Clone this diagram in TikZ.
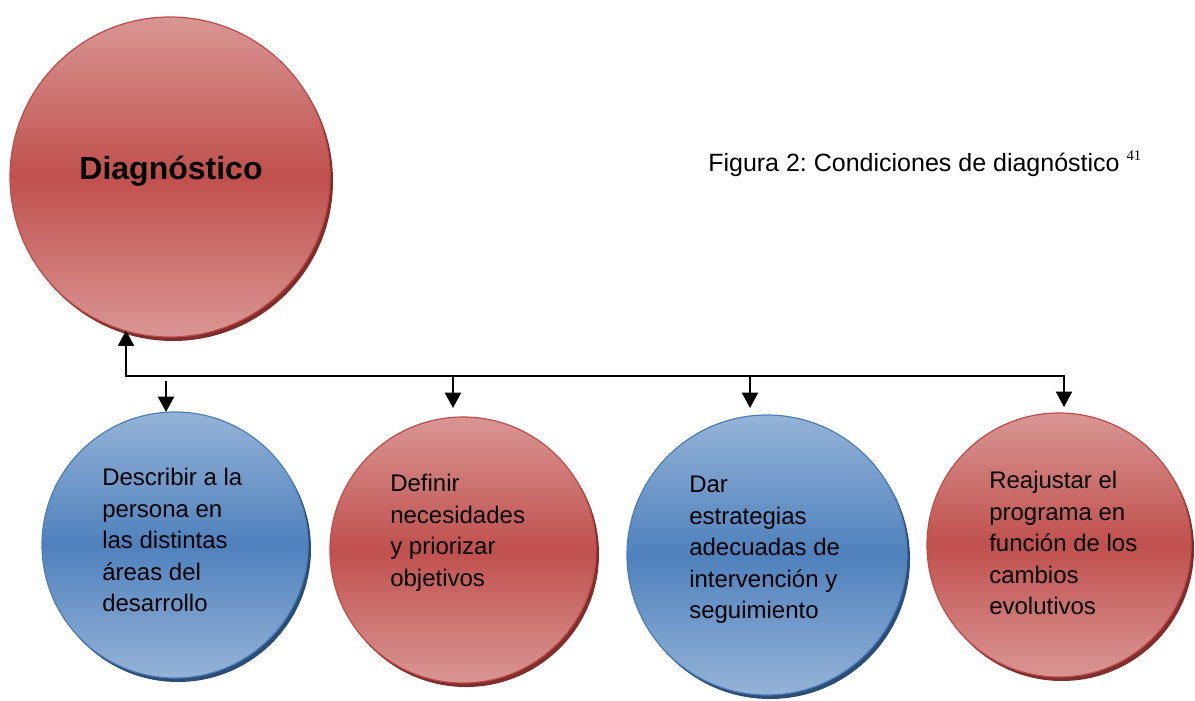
\documentclass[tikz,border=0pt]{standalone}
\usepackage{fontspec}
\setmainfont{Liberation Sans}
\newfontfamily\notefont{Liberation Serif}
\usetikzlibrary{arrows.meta,shadows}
\newdimen\pu \pu=0.75pt
\definecolor{redlight}{HTML}{D99694}
\definecolor{redmid}{HTML}{C0504D}
\definecolor{redborder}{HTML}{BE4B48}
\definecolor{reddark}{HTML}{7F2E2C}
\definecolor{bluelight}{HTML}{95B3D7}
\definecolor{bluemid}{HTML}{4F81BD}
\definecolor{blueborder}{HTML}{4A7EBB}
\definecolor{bluedark}{HTML}{2C4D75}
\frenchspacing
\begin{document}
\begin{tikzpicture}[x=0.75pt,y=-0.75pt]
	\tikzset{ball/.style = {shape=circle,inner sep=0,draw=#1border,line width=1.2\pu,
		top color=#1light,bottom color=#1light,middle color=#1mid,
		drop shadow={shadow xshift=3\pu,shadow yshift=-4\pu,fill=#1dark,opacity=1}}}
	\tikzset{lbl/.style = {anchor=north west,inner sep=0,align=left,
		font=\fontsize{18pt}{23.6pt}\selectfont}}
	\tikzset{bigtip/.tip = {Triangle[length=11.5pt,width=12pt]}}
	\tikzset{arr/.style = {line width=1.5pt,-bigtip}}
	\useasboundingbox (0,0) rectangle (1195,700);
	% circles
	\node[ball=red,minimum size=320\pu] (diag) at (170,177) {};
	\node[ball=blue,minimum size=266\pu] (c1) at (175,545) {};
	\node[ball=red,minimum size=266\pu] (c2) at (463,550) {};
	\node[ball=blue,minimum size=280\pu] (c3) at (767,555) {};
	\node[ball=red,minimum size=264\pu] (c4) at (1059,545) {};
	% texts
	\node[anchor=base,inner sep=0,font=\bfseries\fontsize{24pt}{28pt}\selectfont] (l0) at (171,179) {Diagnóstico};
	\node[lbl] (l1) at (102,468) {Describir a la\\persona en\\las distintas\\áreas del\\desarrollo};
	\node[lbl] (l2) at (390,474) {Definir\\necesidades\\y priorizar\\objetivos};
	\node[lbl] (l3) at (689,476) {Dar\\estrategias\\adecuadas de\\intervención y\\seguimiento};
	\node[lbl] (l4) at (989,471) {Reajustar el\\programa en\\función de los\\cambios\\evolutivos};
	\node[anchor=base west,inner sep=0,font=\fontsize{18.75pt}{22pt}\selectfont] (cap) at (708,171)
		{Figura 2: Condiciones de diagnóstico \raisebox{8pt}{\notefont\fontsize{11pt}{11pt}\selectfont 41}};
	% connectors
	\coordinate (bus) at (126,376);
	\coordinate (s1) at (166,381);
	\coordinate (p1) at (166,412);
	\coordinate (p2) at (453,408);
	\coordinate (p3) at (750,408);
	\coordinate (p4) at (1064,407);
	\draw[arr,bigtip-bigtip] (p4) |- (bus) -- (diag.253.7 -| bus);
	\draw[arr] (s1) -- (p1);
	\draw[arr] (p2 |- bus) -- (p2);
	\draw[arr] (p3 |- bus) -- (p3);
\end{tikzpicture}
\end{document}
